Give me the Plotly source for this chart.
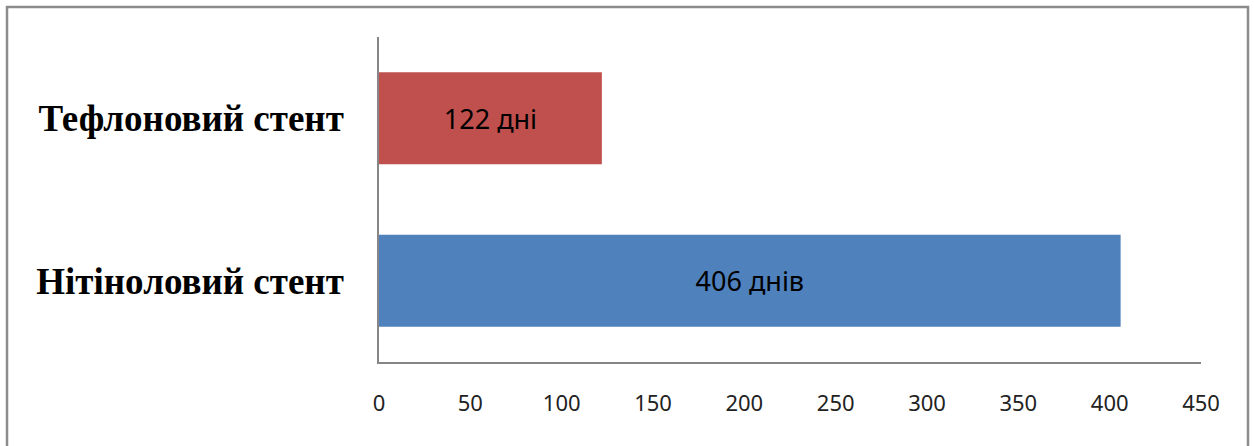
import plotly.graph_objects as go

# Stent types and patency duration (days)
categories = ["Нітіноловий стент", "Тефлоновий стент"]
days = [406, 122]
bar_labels = ["406 днів", "122 дні"]
colors = ["#4F81BD", "#C0504D"]
x_ticks = [0, 50, 100, 150, 200, 250, 300, 350, 400, 450]

W, H = 1254, 446
ML, MR, MT, MB = 379, 53, 37, 84
pw, ph = W - ML - MR, H - MT - MB

fig = go.Figure(
    go.Bar(
        y=categories,
        x=days,
        orientation="h",
        marker=dict(color=colors, line=dict(width=0)),
        text=bar_labels,
        textposition="inside",
        insidetextanchor="middle",
        textfont=dict(family="Noto Sans", size=27, color="#000000"),
        width=0.565,
        hoverinfo="skip",
    )
)

# outer frame around the chart area
def px_x(v):
    return (v - ML) / pw

def px_y(v):
    return (H - MB - v) / ph

fig.add_shape(
    type="rect", xref="paper", yref="paper",
    x0=px_x(7), x1=px_x(1248), y0=px_y(460), y1=px_y(7),
    line=dict(color="#8C8C8C", width=2.5), layer="below",
)

fig.update_layout(
    width=W, height=H,
    margin=dict(l=ML, r=MR, t=MT, b=MB),
    paper_bgcolor="white", plot_bgcolor="white",
    showlegend=False,
    xaxis=dict(
        range=[0, 450], tickvals=x_ticks, showgrid=False, zeroline=False,
        showline=True, linecolor="#868686", linewidth=1.5, ticks="",
        tickfont=dict(family="Noto Sans", size=22, color="#222222"),
        ticklabelstandoff=21,
    ),
    yaxis=dict(
        range=[-0.5, 1.5], showgrid=False, zeroline=False,
        showline=True, linecolor="#868686", linewidth=1.5, ticks="",
        tickfont=dict(family="Liberation Serif", size=37, color="#000000", weight="bold"),
        ticklabelstandoff=26,
    ),
    uniformtext=dict(minsize=8, mode="show"),
)

fig.write_html("out.html")
